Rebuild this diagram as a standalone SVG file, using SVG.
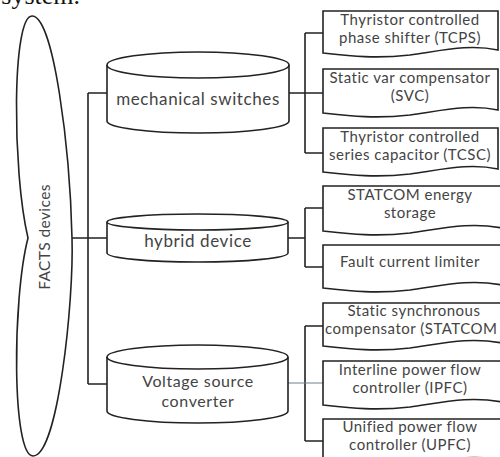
<svg xmlns="http://www.w3.org/2000/svg" width="500" height="457" viewBox="0 0 500 457">
<style>
.s{fill:#fff;stroke:#222;stroke-width:1.6}
.c{fill:none;stroke:#222;stroke-width:1.6}
.t{font-family:Lato,"Open Sans",sans-serif;font-size:15px;letter-spacing:0.5px;fill:#444;text-anchor:middle}
.m{font-family:Lato,"Open Sans",sans-serif;font-size:16px;letter-spacing:0.6px;fill:#444;text-anchor:middle}
.b{font-family:Lato,"Open Sans",sans-serif;font-size:17px;letter-spacing:0.6px;fill:#444;text-anchor:middle}
.f{font-family:Lato,"Open Sans",sans-serif;font-size:15.5px;letter-spacing:0.4px;fill:#444;text-anchor:middle}
</style>
<rect width="500" height="457" fill="#fff"/>
<text x="80" y="4" font-family="Liberation Serif,serif" font-size="26" text-anchor="end" fill="#111">system.</text>

<g id="connectors">
<path class="c" d="M72,238 H107 M88,93 V384 M88,93 H107 M88,384 H107"/>
<path class="c" d="M289,93 H323 M305,33 V153 M305,33 H323 M305,153 H323"/>
<path class="c" d="M288,238 H305 M305,208 V267 M305,208 H323 M305,267 H323"/>
<path class="c" d="M305,326 V441 M305,326 H323 M305,441 H323"/>
<path d="M288,383 H323" fill="none" stroke="#6f8090" stroke-width="1.2"/>
</g>

<g id="facts">
<path class="s" d="M32,16 C12,16 12,170 28,238 C12,300 12,456 33,456 C58,456 74,300 72,238 C70,150 54,16 32,16 Z"/>
<text class="f" transform="translate(45,237) rotate(-90)" dy="5">FACTS devices</text>
</g>

<g id="mechanical">
<path class="s" d="M107,65 A91,13 0 0 1 289,65 V121 A91,12 0 0 1 107,121 Z"/>
<path class="c" d="M107,65 A91,13 0 0 0 289,65"/>
<text class="b" x="198" y="105">mechanical switches</text>
</g>

<g id="hybrid">
<path class="s" d="M107,222 A90.5,8 0 0 1 288,222 V253 A90.5,9 0 0 1 107,253 Z"/>
<path class="c" d="M107,222 A90.5,8 0 0 0 288,222"/>
<text class="b" x="198" y="247">hybrid device</text>
</g>

<g id="vsc">
<path class="s" d="M107,357 A90.5,12 0 0 1 288,357 V411 A90.5,12 0 0 1 107,411 Z"/>
<path class="c" d="M107,357 A90.5,12 0 0 0 288,357"/>
<text class="m" x="198" y="387">Voltage source</text>
<text class="m" x="198" y="407">converter</text>
</g>

<g id="tcps">
<path class="s" d="M323,11 H498 V50 C470,44 445,50 410,55 C375,59 350,56 323,53 Z"/>
<text class="t" x="410" y="25">Thyristor controlled</text>
<text class="t" x="410" y="43">phase shifter (TCPS)</text>
</g>
<g id="svc">
<path class="s" d="M323,69 H498 V110 C470,104 445,110 410,115 C375,119 350,116 323,113 Z"/>
<text class="t" x="410" y="83">Static var compensator</text>
<text class="t" x="410" y="101">(SVC)</text>
</g>
<g id="tcsc">
<path class="s" d="M323,128 H498 V169 C470,163 445,169 410,174 C375,178 350,175 323,172 Z"/>
<text class="t" x="410" y="142">Thyristor controlled</text>
<text class="t" x="410" y="160">series capacitor (TCSC)</text>
</g>
<g id="statcom-es">
<path class="s" d="M323,186 H502 V228 C470,222 445,228 410,233 C375,237 350,234 323,231 Z"/>
<text class="t" x="410" y="200">STATCOM energy</text>
<text class="t" x="410" y="218">storage</text>
</g>
<g id="fcl">
<path class="s" d="M323,245 H502 V285 C470,279 445,285 410,290 C375,294 350,291 323,288 Z"/>
<text class="t" x="410" y="267">Fault current limiter</text>
</g>
<g id="statcom">
<path class="s" d="M323,303 H502 V343 C470,337 445,343 410,348 C375,352 350,349 323,346 Z"/>
<text class="t" x="414" y="316">Static synchronous</text>
<text class="t" x="325" y="334" style="text-anchor:start">compensator (STATCOM</text>
</g>
<g id="ipfc">
<path class="s" d="M323,361 H502 V402 C470,396 445,402 410,407 C375,411 350,408 323,405 Z"/>
<text class="t" x="410" y="375">Interline power flow</text>
<text class="t" x="410" y="393">controller (IPFC)</text>
</g>
<g id="upfc">
<path class="s" d="M323,419 H502 V460 C470,454 445,460 410,465 C375,469 350,466 323,463 Z"/>
<text class="t" x="410" y="432">Unified power flow</text>
<text class="t" x="410" y="450">controller (UPFC)</text>
</g>
</svg>
